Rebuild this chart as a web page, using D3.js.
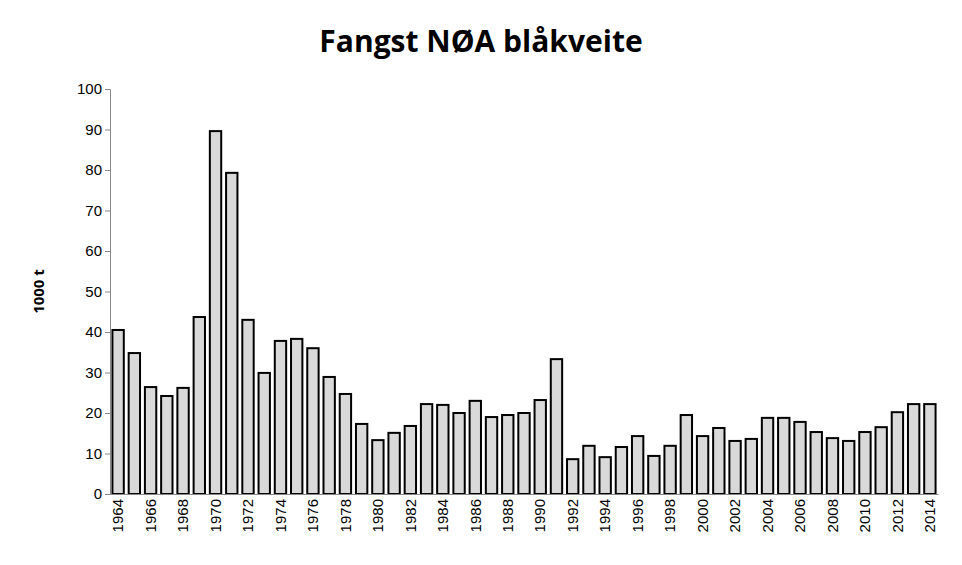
<!DOCTYPE html>
<html><head><meta charset="utf-8">
<script src="https://cdn.jsdelivr.net/npm/d3@7"></script>
<style>body{margin:0;background:#fff}svg{font-family:"Open Sans",sans-serif}</style>
</head><body><div id="chart"></div>
<script>
const years = d3.range(1964, 2015);
const catch1000t = [40.5,34.8,26.4,24.2,26.2,43.7,89.6,79.3,43,29.9,37.8,38.3,36,28.9,24.7,17.3,13.3,15.1,16.8,22.2,22,20,23,19,19.5,20,23.2,33.3,8.6,11.9,9.1,11.6,14.3,9.4,11.9,19.5,14.3,16.3,13.1,13.6,18.8,18.8,17.8,15.3,13.8,13.1,15.3,16.5,20.2,22.2,22.2];
const yTicks = [0,10,20,30,40,50,60,70,80,90,100];

const margin = { top: 89, right: 24, bottom: 71, left: 110 };
const width = 962 - margin.left - margin.right;
const height = 565 - margin.top - margin.bottom;

const root = d3.select("#chart").append("svg").attr("width", 962).attr("height", 565);
root.append("text").attr("x", 481).attr("y", 52).attr("text-anchor", "middle")
    .style("font-size", "30px").style("font-weight", "bold").text("Fangst NØA blåkveite");

const svg = root.append("g").attr("transform", "translate(" + margin.left + "," + margin.top + ")");

const x = d3.scaleBand().domain(years).range([0, width]).paddingInner(0.3).paddingOuter(0.15);
const y = d3.scaleLinear().domain([0, 100]).range([height, 0]);

const ya = svg.append("g").call(d3.axisLeft(y).tickValues(yTicks).tickSize(5));
ya.selectAll("text").style("font-size", "15px").attr("fill", "#000");
ya.select(".domain").attr("stroke", "#888");
ya.selectAll(".tick line").attr("stroke", "#888");

svg.selectAll(".bar").data(years).enter().append("rect")
    .attr("x", d => x(d)).attr("width", x.bandwidth())
    .attr("y", (d, i) => y(catch1000t[i])).attr("height", (d, i) => height - y(catch1000t[i]))
    .attr("fill", "#d9d9d9").attr("stroke", "#000").attr("stroke-width", 2);

const xa = svg.append("g").attr("transform", "translate(0," + height + ")")
    .call(d3.axisBottom(x).tickValues(years.filter(d => d % 2 === 0)).tickSize(0).tickSizeOuter(0));
xa.select(".domain").attr("stroke", "#888");
xa.selectAll("text").style("font-size", "15px").attr("fill", "#000")
    .attr("transform", "rotate(-90)").attr("x", -5).attr("y", 0).attr("dy", "0.35em")
    .style("text-anchor", "end");

svg.append("text").attr("transform", "rotate(-90)").attr("x", -height / 2).attr("y", -66)
    .attr("text-anchor", "middle").style("font-size", "15px").style("font-weight", "bold").text("1000 t");
</script></body></html>
